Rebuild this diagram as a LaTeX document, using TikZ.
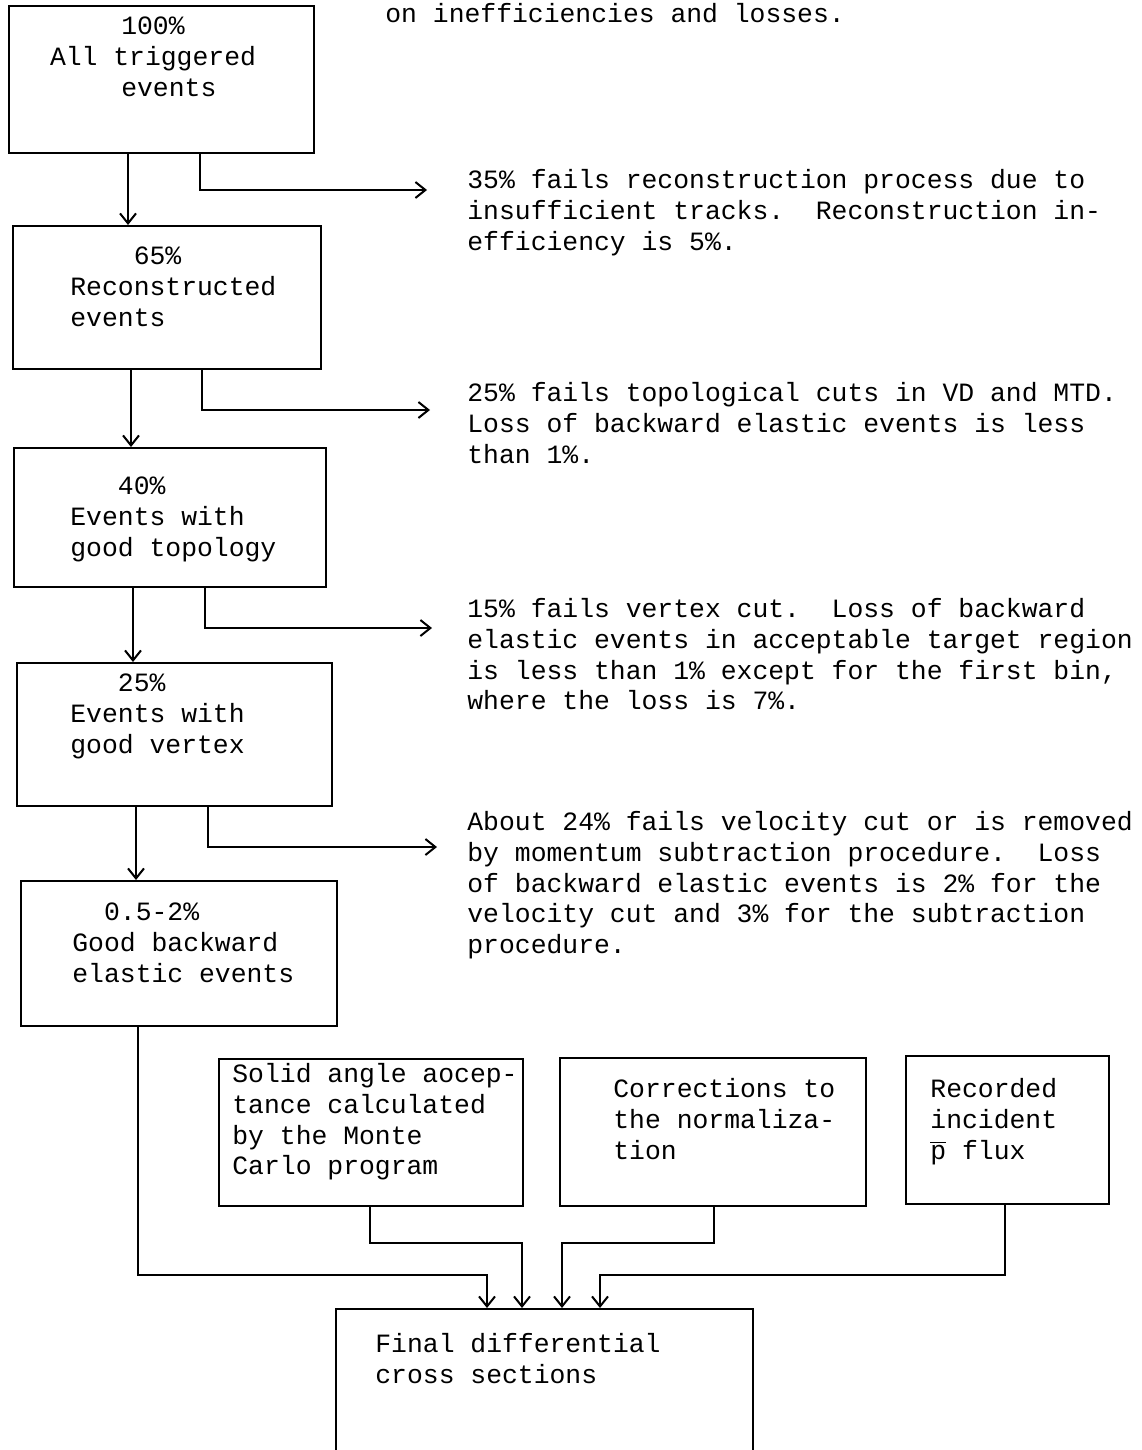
\documentclass[tikz,border=0pt]{standalone}
\usepackage{fontspec}
\newfontfamily\tw{Liberation Mono}
\usetikzlibrary{arrows.meta,calc}
\tikzset{
  box/.style={draw, line width=1pt, rectangle, inner sep=0pt, anchor=north west},
  arr/.style={-{Straight Barb[length=5pt,width=8pt]}, line width=1pt},
  ln/.style={line width=1pt},
  txt/.style={font=\tw\fontsize{13.2}{15.3}\selectfont, align=left, anchor=north west, inner sep=0pt},
  ctxt/.style={txt, align=center, anchor=north}
}
\begin{document}
\begin{tikzpicture}[x=0.5pt,y=-0.5pt]
\useasboundingbox (0,0) rectangle (1141,1450);
\clip (0,0) rectangle (1141,1450);
% left column boxes
\node[box, minimum width=152.5pt, minimum height=73.5pt] (b1) at (8,5) {};
\node[box, minimum width=154pt, minimum height=71.5pt] (b2) at (12,225) {};
\node[box, minimum width=156pt, minimum height=69.5pt] (b3) at (13,447) {};
\node[box, minimum width=157.5pt, minimum height=71.5pt] (b4) at (16,662) {};
\node[box, minimum width=158pt, minimum height=72.5pt] (b5) at (20,880) {};
% bottom boxes
\node[box, minimum width=152pt, minimum height=73.5pt] (s1) at (218,1058) {};
\node[box, minimum width=153pt, minimum height=74pt] (s2) at (559,1057) {};
\node[box, minimum width=101.5pt, minimum height=74pt] (s3) at (905,1055) {};
\node[box, minimum width=208.5pt, minimum height=85pt] (fin) at (335,1308) {};
% box texts
\node[ctxt] (tb1) at (153,13) {\strut 100\%\\All triggered\\\phantom{00}events};
\node[txt] (tb2) at (70,243) {\strut\phantom{0000}65\%\\Reconstructed\\events};
\node[txt] (tb3) at (70,473) {\strut\phantom{000}40\%\\Events with\\good topology};
\node[txt] (tb4) at (70,670) {\strut\phantom{000}25\%\\Events with\\good vertex};
\node[txt] (tb5) at (72,899) {\strut\phantom{00}0.5-2\%\\Good backward\\elastic events};
\node[txt] (ts1) at (232,1061) {\strut Solid angle aocep-\\tance calculated\\by the Monte\\Carlo program};
\node[txt] (ts2) at (613,1076) {\strut Corrections to\\the normaliza-\\tion};
\node[txt] (ts3) at (930,1076) {\strut Recorded\\incident\\\(\overline{\mbox{p}}\) flux};
\node[txt] (tfin) at (375,1331) {\strut Final differential\\cross sections};
% right texts
\node[txt] (top) at (385,1) {\strut on inefficiencies and losses.};
\node[txt] (t1) at (467,167) {\strut 35\% fails reconstruction process due to\\insufficient tracks.\ \ Reconstruction in-\\efficiency is 5\%.};
\node[txt] (t2) at (467,380) {\strut 25\% fails topological cuts in VD and MTD.\\Loss of backward elastic events is less\\than 1\%.};
\node[txt] (t3) at (467,596) {\strut 15\% fails vertex cut.\ \ Loss of backward\\elastic events in acceptable target region\\is less than 1\% except for the first bin,\\where the loss is 7\%.};
\node[txt] (t4) at (467,809) {\strut About 24\% fails velocity cut or is removed\\by momentum subtraction procedure.\ \ Loss\\of backward elastic events is 2\% for the\\velocity cut and 3\% for the subtraction\\procedure.};
% down arrows
\coordinate (d1) at ($(b1.south west)+(120,0)$);
\coordinate (d2) at ($(b2.south west)+(119,0)$);
\coordinate (d3) at ($(b3.south west)+(120,0)$);
\coordinate (d4) at ($(b4.south west)+(120,0)$);
\draw[arr] (d1) -- (d1 |- b2.north);
\draw[arr] (d2) -- (d2 |- b3.north);
\draw[arr] (d3) -- (d3 |- b4.north);
\draw[arr] (d4) -- (d4 |- b5.north);
% side arrows
\coordinate (r1) at ($(b1.south west)+(192,0)$);
\coordinate (r2) at ($(b2.south west)+(190,0)$);
\coordinate (r3) at ($(b3.south west)+(192,0)$);
\coordinate (r4) at ($(b4.south west)+(192,0)$);
\coordinate (e1) at (427,190);
\coordinate (e2) at (430,410);
\coordinate (e3) at (432,628);
\coordinate (e4) at (437,847);
\draw[arr] (r1) |- (e1);
\draw[arr] (r2) |- (e2);
\draw[arr] (r3) |- (e3);
\draw[arr] (r4) |- (e4);
% bottom connectors
\coordinate (f5) at ($(b5.south west)+(118,0)$);
\coordinate (f1) at ($(s1.south west)+(152,0)$);
\coordinate (f2) at ($(s2.south west)+(155,0)$);
\coordinate (f3) at ($(s3.south west)+(100,0)$);
\coordinate (j5) at (487,1275);
\coordinate (j1) at (522,1243);
\coordinate (j2) at (562,1243);
\coordinate (j3) at (600,1275);
\draw[arr] (f5) |- (j5) -- (j5 |- fin.north);
\draw[arr] (f1) |- (j1) -- (j1 |- fin.north);
\draw[arr] (f2) |- (j2) -- (j2 |- fin.north);
\draw[arr] (f3) |- (j3) -- (j3 |- fin.north);
\end{tikzpicture}
\end{document}
